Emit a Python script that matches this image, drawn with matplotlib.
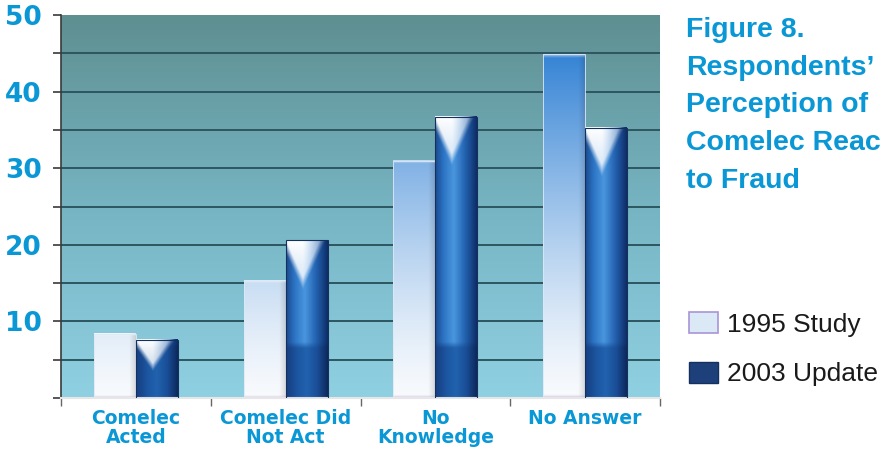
import numpy as np
import matplotlib.pyplot as plt
from matplotlib.colors import LinearSegmentedColormap, to_rgb
from matplotlib.patches import Patch

# data
categories = ["Comelec\nActed", "Comelec Did\nNot Act", "No\nKnowledge", "No Answer"]
study_1995 = [8.4, 15.4, 31.0, 44.9]
update_2003 = [7.6, 20.6, 36.7, 35.3]
series_labels = ["1995 Study", "2003 Update"]
y_ticks = [0, 10, 20, 30, 40, 50]
y_tick_labels = ["", "10", "20", "30", "40", "50"]
# the reference cuts the 4th line at the page edge
title_lines = ["Figure 8.", "Respondents\u2019", "Perception of",
               "Comelec Reac", "to Fraud"]

BLUE_TEXT = "#0a97d5"
W = 885
H = 449


def mix(c1, c2, t):
    c1 = np.array(to_rgb(c1))
    c2 = np.array(to_rgb(c2))
    t = np.asarray(t, dtype=float)[..., None]
    return c1 * (1 - t) + c2 * t


def mix_arr(img, color, t):
    c = np.array(to_rgb(color))
    return img * (1 - t[..., None]) + c * t[..., None]


def shade_1995(h):
    # white at the floor, blue higher up (absolute height)
    ys = np.linspace(h, 0, 300)[:, None]
    us = np.linspace(0, 1, 40)[None, :]
    t = np.clip(ys / 46.0, 0, 1) ** 1.3
    img = mix("#f8fafd", "#2f80d4", t * np.ones_like(us))
    edge = np.clip((us - 0.85) / 0.15, 0, 1) * 0.12
    img = img * (1 - edge[..., None])
    cap = np.clip(1 - (h - ys) / 0.4, 0, 1) * 0.55 * np.ones_like(us)
    img = img * (1 - cap[..., None]) + cap[..., None]
    foot = np.clip(1 - ys / 0.35, 0, 1) * 0.6 * np.ones_like(us)
    img = mix_arr(img, "#bfa6dc", foot)
    return img


upper = LinearSegmentedColormap.from_list(
    "upper", [(0, "#1b4a8f"), (0.2, "#2c74c4"), (0.45, "#4a96de"),
              (0.7, "#2566b5"), (1, "#0f2e68")])
lower = LinearSegmentedColormap.from_list(
    "lower", [(0, "#163e80"), (0.3, "#1d58a4"), (0.5, "#2162ae"),
              (0.75, "#1a4e97"), (1, "#0d295c")])


def shade_2003(h):
    ys = np.linspace(h, 0, 400)[:, None]
    us = np.linspace(0, 1, 60)[None, :]
    top = upper(us)[..., :3] * np.ones((400, 1, 1))
    bot = lower(us)[..., :3] * np.ones((400, 1, 1))
    blend = np.clip((ys - 6.5) / 0.8, 0, 1) * np.ones_like(us)
    img = bot * (1 - blend[..., None]) + top * blend[..., None]
    # white cone under the top edge
    cone_h = min(6.5, 0.55 * h)
    frac = (h - ys) / cone_h
    half_w = 0.55 * (1 - frac)
    dist = np.abs(us - 0.4)
    white = np.clip((half_w - dist) / 0.14, 0, 1) * (frac < 1)
    white = white * (1 - 0.25 * frac) * (1 - 0.55 * np.clip((us - 0.4) / 0.45, 0, 1))
    img = mix_arr(img, "#ffffff", np.clip(white, 0, 1))
    return img


fig = plt.figure(figsize=(W / 100, H / 100), dpi=100)
ax = fig.add_axes([61 / W, 1 - 398 / H, 599 / W, 383 / H])

x = np.arange(len(categories))
width = 0.28

# background gradient of the plot area
bg = LinearSegmentedColormap.from_list(
    "bg", ["#8fd0e2", "#76b4c2", "#5e8f91"])
ax.imshow(np.linspace(0, 1, 256)[:, None], extent=[-0.5, 3.5, 0, 50],
          aspect="auto", origin="lower", cmap=bg, zorder=0)
ax.hlines(np.arange(5, 50, 5), -0.5, 3.5, colors="#2d5660",
          linewidth=1.4, zorder=1)

bars_a = ax.bar(x - width / 2, study_1995, width, facecolor="none",
                edgecolor="#dfe8f4", linewidth=0.6, zorder=3,
                label=series_labels[0])
bars_b = ax.bar(x + width / 2, update_2003, width, facecolor="none",
                edgecolor="#13305e", linewidth=0.8, zorder=3,
                label=series_labels[1])

for bar in bars_a:
    x0, w, h = bar.get_x(), bar.get_width(), bar.get_height()
    ax.imshow(shade_1995(h), extent=[x0, x0 + w, 0, h], aspect="auto",
              interpolation="bilinear", zorder=2)
for bar in bars_b:
    x0, w, h = bar.get_x(), bar.get_width(), bar.get_height()
    ax.imshow(shade_2003(h), extent=[x0, x0 + w, 0, h], aspect="auto",
              interpolation="bilinear", zorder=2)

ax.set_xlim(-0.5, 3.5)
ax.set_ylim(0, 50)

# axes styling
for side in ["top", "right"]:
    ax.spines[side].set_visible(False)
ax.spines["left"].set_color("#3a3a3a")
ax.spines["left"].set_linewidth(1.2)
ax.spines["bottom"].set_color("#e6e6e6")
ax.spines["bottom"].set_linewidth(1.5)

ax.set_yticks(y_ticks, y_tick_labels)
ax.set_yticks(np.arange(5, 50, 10), minor=True)
ax.tick_params(axis="y", which="both", length=6, width=1.2, color="#3a3a3a",
               pad=8, labelsize=19, labelcolor=BLUE_TEXT)
for lab in ax.get_yticklabels():
    lab.set_fontweight("bold")

ax.set_xticks(x, categories)
ax.set_xticks(np.arange(-0.5, 4, 1), minor=True)
ax.tick_params(axis="x", which="major", length=0, pad=8, labelsize=13.5,
               labelcolor=BLUE_TEXT)
ax.tick_params(axis="x", which="minor", length=6, width=1, color="#666666")
for lab in ax.get_xticklabels():
    lab.set_fontweight("bold")
    lab.set_linespacing(1.0)

# title block on the right
for i, line in enumerate(title_lines):
    fig.text(686 / W, 1 - (37 + i * 37.7) / H, line, va="baseline",
             ha="left", fontsize=20.5, fontweight="bold",
             family="Liberation Sans", color=BLUE_TEXT)

handles = [Patch(facecolor="#dbe9f7", edgecolor="#a994d8", linewidth=1.2),
           Patch(facecolor="#1d3f7a", edgecolor="#16305e", linewidth=1.0)]
fig.legend(handles, series_labels, loc="upper left",
           bbox_to_anchor=(689 / W, 1 - 312 / H), frameon=False,
           prop={"family": "Liberation Sans", "size": 19},
           labelcolor="#1a1a1a", handlelength=1.1, handleheight=0.85,
           handletextpad=0.35, labelspacing=0.95, borderpad=0,
           borderaxespad=0)

fig.savefig("out.png", dpi=100)
